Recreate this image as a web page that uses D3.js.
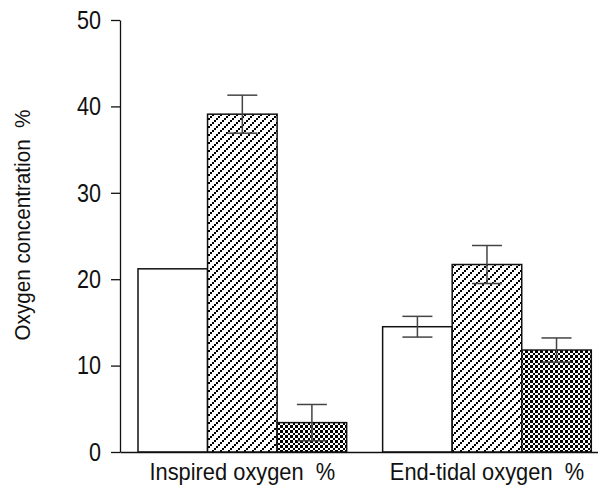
<!DOCTYPE html>
<html>
<head>
<meta charset="utf-8">
<script src="https://cdn.jsdelivr.net/npm/d3@7"></script>
<style>
  body { margin: 0; background: #fff; }
  text { font-family: "Liberation Sans", Arial, sans-serif; fill: #111; }
</style>
</head>
<body>
<div id="chart"></div>
<script>
// data
var groups = ["Inspired oxygen  %", "End-tidal oxygen  %"];
var series = ["A", "B", "C"];
var meansA = [21.2, 14.5];
var meansB = [39.1, 21.7];
var meansC = [3.4, 11.8];
var errsA = [0, 1.2];
var errsB = [2.2, 2.2];
var errsC = [2.1, 1.4];
var yTicks = [0, 10, 20, 30, 40, 50];

var W = 598, H = 486;

var svg = d3.select("#chart").append("svg")
    .attr("width", W)
    .attr("height", H);

// patterns
var defs = svg.append("defs");
var hatch = defs.append("pattern")
    .attr("id", "hatch")
    .attr("patternUnits", "userSpaceOnUse")
    .attr("width", 8).attr("height", 8);
hatch.append("rect").attr("width", 8).attr("height", 8).attr("fill", "#fff");
// staircase of small squares, like the printed hatch
[[0, 6], [2, 4], [4, 2], [6, 0]].forEach(function (p) {
    hatch.append("rect")
        .attr("x", p[0]).attr("y", p[1])
        .attr("width", 2).attr("height", 2)
        .attr("fill", "#000")
        .attr("shape-rendering", "crispEdges");
});

var check = defs.append("pattern")
    .attr("id", "check")
    .attr("patternUnits", "userSpaceOnUse")
    .attr("width", 5).attr("height", 5);
check.append("rect").attr("width", 5).attr("height", 5).attr("fill", "#fff");
check.append("rect").attr("width", 2.5).attr("height", 2.5).attr("fill", "#000").attr("shape-rendering", "crispEdges");
check.append("rect").attr("x", 2.5).attr("y", 2.5).attr("width", 2.5).attr("height", 2.5).attr("fill", "#000").attr("shape-rendering", "crispEdges");

var fills = {A: "#fff", B: "url(#hatch)", C: "url(#check)"};

// scales
var y = d3.scaleLinear().domain([0, 50]).range([452, 20]);
var x0 = d3.scaleBand().domain(groups).range([138, 591.3]).paddingInner(0.147);
var x1 = d3.scaleBand().domain(series).range([0, x0.bandwidth()]);

// table for drawing
var rows = [];
groups.forEach(function (g, i) {
    rows.push({group: g, key: "A", value: meansA[i], err: errsA[i]});
    rows.push({group: g, key: "B", value: meansB[i], err: errsB[i]});
    rows.push({group: g, key: "C", value: meansC[i], err: errsC[i]});
});

// bars
svg.append("g").selectAll("rect")
    .data(rows)
    .enter().append("rect")
    .attr("x", function (d) { return x0(d.group) + x1(d.key); })
    .attr("y", function (d) { return y(d.value); })
    .attr("width", x1.bandwidth())
    .attr("height", function (d) { return y(0) - y(d.value); })
    .attr("fill", function (d) { return fills[d.key]; })
    .attr("stroke", "#111")
    .attr("stroke-width", 1.5);

// error bars
var eb = svg.append("g").selectAll("g")
    .data(rows.filter(function (d) { return d.err > 0; }))
    .enter().append("g")
    .attr("stroke", "#444")
    .attr("stroke-width", 1.5);

function cx(d) { return x0(d.group) + x1(d.key) + x1.bandwidth() / 2; }

eb.append("line")
    .attr("x1", cx).attr("x2", cx)
    .attr("y1", function (d) { return y(d.value + d.err); })
    .attr("y2", function (d) { return y(d.value - d.err); });
eb.append("line")
    .attr("x1", function (d) { return cx(d) - 15; })
    .attr("x2", function (d) { return cx(d) + 15; })
    .attr("y1", function (d) { return y(d.value + d.err); })
    .attr("y2", function (d) { return y(d.value + d.err); });
eb.append("line")
    .attr("x1", function (d) { return cx(d) - 15; })
    .attr("x2", function (d) { return cx(d) + 15; })
    .attr("y1", function (d) { return y(d.value - d.err); })
    .attr("y2", function (d) { return y(d.value - d.err); });

// y axis
var yAxis = svg.append("g")
    .attr("transform", "translate(120,0)")
    .call(d3.axisLeft(y).tickValues(yTicks).tickSize(9).tickSizeOuter(0).tickPadding(10));
// condensed look: squeeze the digits horizontally
yAxis.selectAll(".tick text")
    .style("font-size", "26px")
    .attr("x", -19 / 0.83)
    .attr("transform", "scale(0.83,1)");
yAxis.selectAll("line, path").attr("stroke", "#111").attr("stroke-width", 1.3);

// x axis baseline
var xAxis = svg.append("g")
    .attr("transform", "translate(0,452)")
    .call(d3.axisBottom(d3.scaleLinear().range([120, 598])).tickValues([]).tickSizeOuter(0));
xAxis.select("path").attr("stroke", "#111").attr("stroke-width", 1.5);

// group labels
svg.append("g").selectAll("text")
    .data(groups)
    .enter().append("text")
    .attr("transform", function (d) {
        return "translate(" + (x0(d) + x0.bandwidth() / 2) + ",480) scale(0.95,1)";
    })
    .attr("text-anchor", "middle")
    .style("font-size", "23px")
    .style("white-space", "pre")
    .text(function (d) { return d; });

// y label
svg.append("text")
    .attr("transform", "translate(30,225) rotate(-90) scale(0.94,1)")
    .attr("text-anchor", "middle")
    .style("font-size", "22px")
    .style("white-space", "pre")
    .text("Oxygen concentration  %");
</script>
</body>
</html>
